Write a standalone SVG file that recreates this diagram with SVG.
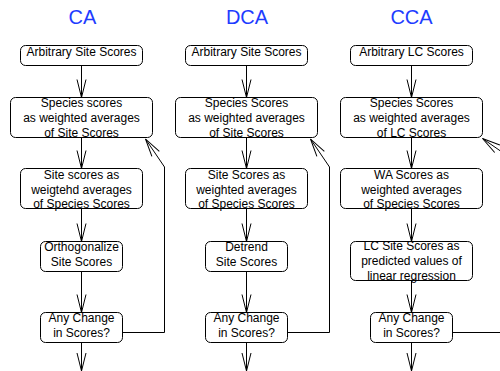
<svg xmlns="http://www.w3.org/2000/svg" width="500" height="371" viewBox="0 0 500 371">
<style>
.box{fill:#fff;stroke:#000;stroke-width:1}
.t{font-family:"Liberation Sans",Arial,Helvetica,sans-serif;font-size:12px;text-anchor:middle;fill:#000}
.title{font-family:"Liberation Sans",Arial,Helvetica,sans-serif;font-size:20px;text-anchor:middle;fill:#1e3cff}
.c{fill:none;stroke:#000;stroke-width:1}
</style>
<defs>
<marker id="v" viewBox="0 0 18 9" refX="18" refY="4.5" markerWidth="18" markerHeight="9" markerUnits="userSpaceOnUse" orient="auto" overflow="visible">
<path d="M0,0 L18,4.5 L0,9" fill="none" stroke="#000" stroke-width="1"/>
</marker>
</defs>
<rect width="500" height="371" fill="#fff"/>
<g id="titles">
<text class="title" x="82.5" y="24">CA</text>
<text class="title" x="247" y="24">DCA</text>
<text class="title" x="411.5" y="24">CCA</text>
</g>
<g id="connectors" class="c">
<line x1="81.5" y1="65.5" x2="81.5" y2="97.5" marker-end="url(#v)"/>
<line x1="81.5" y1="137.5" x2="81.5" y2="168.5" marker-end="url(#v)"/>
<line x1="81.5" y1="208.5" x2="81.5" y2="241.5" marker-end="url(#v)"/>
<line x1="81.5" y1="271.5" x2="81.5" y2="312.5" marker-end="url(#v)"/>
<line x1="81.5" y1="342.5" x2="81.5" y2="371" marker-end="url(#v)"/>
<polyline points="122.5,332.5 164.5,332.5 164.5,167 145.5,139" marker-end="url(#v)"/>
<line x1="246.5" y1="65.5" x2="246.5" y2="97.5" marker-end="url(#v)"/>
<line x1="246.5" y1="137.5" x2="246.5" y2="168.5" marker-end="url(#v)"/>
<line x1="246.5" y1="208.5" x2="246.5" y2="241.5" marker-end="url(#v)"/>
<line x1="246.5" y1="271.5" x2="246.5" y2="312.5" marker-end="url(#v)"/>
<line x1="246.5" y1="342.5" x2="246.5" y2="371" marker-end="url(#v)"/>
<polyline points="287.5,332.5 329.5,332.5 329.5,167 310.5,139" marker-end="url(#v)"/>
<line x1="411.5" y1="65.5" x2="411.5" y2="97.5" marker-end="url(#v)"/>
<line x1="411.5" y1="137.5" x2="411.5" y2="168.5" marker-end="url(#v)"/>
<line x1="411.5" y1="208.5" x2="411.5" y2="241.5" marker-end="url(#v)"/>
<line x1="411.5" y1="280.5" x2="411.5" y2="312.5" marker-end="url(#v)"/>
<line x1="411.5" y1="342.5" x2="411.5" y2="371" marker-end="url(#v)"/>
<polyline points="452.5,332.5 523.5,332.5 523.5,167 482.5,138.5" marker-end="url(#v)"/>
</g>
<g id="ca-arbitrary">
<rect class="box" x="20.5" y="45.5" width="122" height="20" rx="5"/>
<text class="t" x="81.5" y="55.5">Arbitrary Site Scores</text>
</g>
<g id="ca-species">
<rect class="box" x="10.5" y="97.5" width="142" height="40" rx="5"/>
<text class="t" x="81.5" y="107">Species scores</text>
<text class="t" x="81.5" y="122">as weighted averages</text>
<text class="t" x="81.5" y="137">of Site Scores</text>
</g>
<g id="ca-site">
<rect class="box" x="20.5" y="168.5" width="122" height="40" rx="5"/>
<text class="t" x="81.5" y="178.5">Site scores as</text>
<text class="t" x="81.5" y="193.5">weigtehd averages</text>
<text class="t" x="81.5" y="208">of Species Scores</text>
</g>
<g id="ca-ortho">
<rect class="box" x="40.5" y="241.5" width="82" height="30" rx="5"/>
<text class="t" x="81.5" y="250.5">Orthogonalize</text>
<text class="t" x="81.5" y="265.5">Site Scores</text>
</g>
<g id="ca-change">
<rect class="box" x="40.5" y="312.5" width="82" height="30" rx="5"/>
<text class="t" x="81.5" y="322">Any Change</text>
<text class="t" x="81.5" y="337">in Scores?</text>
</g>
<g id="dca-arbitrary">
<rect class="box" x="185.5" y="45.5" width="122" height="20" rx="5"/>
<text class="t" x="246.5" y="55.5">Arbitrary Site Scores</text>
</g>
<g id="dca-species">
<rect class="box" x="175.5" y="97.5" width="142" height="40" rx="5"/>
<text class="t" x="246.5" y="107">Species Scores</text>
<text class="t" x="246.5" y="122">as weighted averages</text>
<text class="t" x="246.5" y="137">of Site Scores</text>
</g>
<g id="dca-site">
<rect class="box" x="185.5" y="168.5" width="122" height="40" rx="5"/>
<text class="t" x="246.5" y="178.5">Site Scores as</text>
<text class="t" x="246.5" y="193.5">weighted averages</text>
<text class="t" x="246.5" y="208">of Species Scores</text>
</g>
<g id="dca-detrend">
<rect class="box" x="205.5" y="241.5" width="82" height="30" rx="5"/>
<text class="t" x="246.5" y="250.5">Detrend</text>
<text class="t" x="246.5" y="265.5">Site Scores</text>
</g>
<g id="dca-change">
<rect class="box" x="205.5" y="312.5" width="82" height="30" rx="5"/>
<text class="t" x="246.5" y="322">Any Change</text>
<text class="t" x="246.5" y="337">in Scores?</text>
</g>
<g id="cca-arbitrary">
<rect class="box" x="350.5" y="45.5" width="122" height="20" rx="5"/>
<text class="t" x="411.5" y="55.5">Arbitrary LC Scores</text>
</g>
<g id="cca-species">
<rect class="box" x="340.5" y="97.5" width="142" height="40" rx="5"/>
<text class="t" x="411.5" y="107">Species Scores</text>
<text class="t" x="411.5" y="122">as weighted averages</text>
<text class="t" x="411.5" y="137">of LC Scores</text>
</g>
<g id="cca-wa">
<rect class="box" x="340.5" y="168.5" width="142" height="40" rx="5"/>
<text class="t" x="411.5" y="178.5">WA Scores as</text>
<text class="t" x="411.5" y="193.5">weighted averages</text>
<text class="t" x="411.5" y="208">of Species Scores</text>
</g>
<g id="cca-lc">
<rect class="box" x="350.5" y="241.5" width="122" height="39" rx="5"/>
<text class="t" x="411.5" y="250">LC Site Scores as</text>
<text class="t" x="411.5" y="265">predicted values of</text>
<text class="t" x="411.5" y="280">linear regression</text>
</g>
<g id="cca-change">
<rect class="box" x="370.5" y="312.5" width="82" height="30" rx="5"/>
<text class="t" x="411.5" y="322">Any Change</text>
<text class="t" x="411.5" y="337">in Scores?</text>
</g>
</svg>
